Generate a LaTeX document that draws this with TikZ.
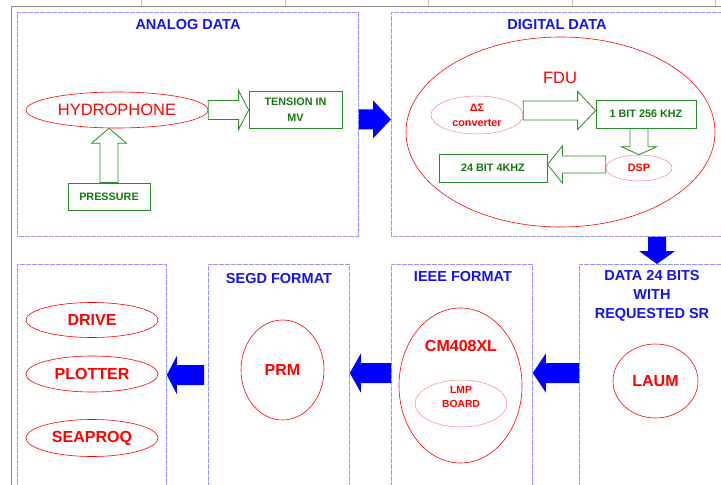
\documentclass[tikz,border=0pt]{standalone}
\usepackage{fontspec}
\setmainfont{Liberation Sans}
\usetikzlibrary{calc,shapes.geometric}

\definecolor{zoneblue}{RGB}{150,150,255}
\definecolor{titleblue}{RGB}{20,20,235}
\definecolor{flowblue}{RGB}{0,0,255}
\definecolor{partred}{RGB}{255,0,0}
\definecolor{softred}{RGB}{255,130,130}
\definecolor{boxgreen}{RGB}{40,140,40}
\definecolor{textgreen}{RGB}{20,120,20}
\definecolor{framegrey}{RGB}{140,140,140}

\newcommand\setfs[2]{\fontsize{#1}{#2}\selectfont}

% Block arrow from #2 to #3: style #1, half body width #4, half head width #5, head length #6
\newcommand\flowarrow[6]{%
  \path ($(#3)!#6!(#2)$) coordinate (fa-h);
  \draw[#1] ($(#2)!#4!90:(#3)$) -- ($(fa-h)!#4!90:(#3)$) -- ($(fa-h)!#5!90:(#3)$)
    -- (#3) -- ($(fa-h)!#5!-90:(#3)$) -- ($(fa-h)!#4!-90:(#3)$)
    -- ($(#2)!#4!-90:(#3)$) -- cycle;}

\tikzset{
  zone/.style={draw=zoneblue, dash pattern=on 0.6pt off 0.6pt, line width=0.8pt, inner sep=0pt,
    anchor=north west},
  zonetitle/.style={text=titleblue, font=\setfs{14.5}{19}\bfseries, align=center, inner sep=0pt},
  part/.style={ellipse, draw=partred, line width=0.6pt, text=partred, inner sep=0pt,
    font=\setfs{16}{18}\bfseries},
  subpart/.style={ellipse, draw=softred, line width=0.5pt, text=partred, inner sep=0pt,
    font=\setfs{10.8}{15}\bfseries, align=center},
  value/.style={rectangle, draw=boxgreen, line width=0.8pt, text=textgreen, inner sep=0pt,
    font=\setfs{10.8}{16}\bfseries, align=center},
  hollow/.style={draw=boxgreen, fill=white, line width=0.8pt, line join=miter},
  solidflow/.style={fill=flowblue, draw=none},
  frame/.style={draw=framegrey, line width=1pt},
  tick/.style={draw=framegrey!55, line width=0.5pt}
}

\begin{document}
\begin{tikzpicture}[x=1pt, y=-1pt]
  \useasboundingbox (0,0) rectangle (721,485);
  \fill[white] (0,0) rectangle (721,485);
  \clip (0,0) rectangle (721,485);

  % page frame
  \foreach \tx in {141,285,428,572,715} \draw[tick] (\tx,0) -- (\tx,6);
  \draw[frame] (721,6) -- (11,6) -- (11,486);

  % zones
  \node[zone, minimum width=341pt, minimum height=224pt] (box1) at (17,12) {};
  \node[zone, minimum width=340pt, minimum height=224pt] (box2) at (391,12) {};
  \node[zone, minimum width=149pt, minimum height=240pt] (boxa) at (17,264) {};
  \node[zone, minimum width=141pt, minimum height=240pt] (boxb) at (208,264) {};
  \node[zone, minimum width=141pt, minimum height=240pt] (box3) at (391,264) {};
  \node[zone, minimum width=150pt, minimum height=240pt] (box4) at (579,264) {};

  \node[zonetitle] (t1) at (188,25) {ANALOG DATA};
  \node[zonetitle] (t2) at (557,25) {DIGITAL DATA};
  \node[zonetitle] (tb) at (279,279) {SEGD FORMAT};
  \node[zonetitle] (t3) at (463,277) {IEEE FORMAT};
  \node[zonetitle] (t4) at (652,296) {DATA 24 BITS\\WITH\\REQUESTED SR};

  % analog stage
  \node[part, minimum width=182pt, minimum height=36pt, font=\setfs{16.5}{18}] (hyd) at (117,110) {HYDROPHONE};
  \node[value, minimum width=93pt, minimum height=37pt] (ten) at (295.5,110) {TENSION IN\\MV};
  \node[value, minimum width=82pt, minimum height=27pt] (pres) at (109,196.5) {PRESSURE};

  % digital stage
  \node[part, minimum width=309pt, minimum height=190pt] (fdu) at (560.5,132) {};
  \node[text=partred, font=\setfs{16.5}{18}, inner sep=0pt] (fdut) at (560,78) {FDU};
  \node[subpart, minimum width=92pt, minimum height=38pt] (dsc) at (477,115) {ΔΣ\\converter};
  \node[value, minimum width=100pt, minimum height=28pt] (b1) at (646,114) {1 BIT 256 KHZ};
  \node[subpart, minimum width=66pt, minimum height=26pt] (dsp) at (639,168) {DSP};
  \node[value, minimum width=108pt, minimum height=28pt] (b24) at (493,168) {24 BIT 4KHZ};

  % recording chain
  \node[part, minimum width=132pt, minimum height=35pt] (drive) at (92,320) {DRIVE};
  \node[part, minimum width=132pt, minimum height=36pt] (plot) at (92,374) {PLOTTER};
  \node[part, minimum width=132pt, minimum height=37pt] (seap) at (92,438) {SEAPROQ};
  \node[part, minimum width=83pt, minimum height=100pt] (prm) at (282.5,370) {PRM};
  \node[part, minimum width=123pt, minimum height=155pt] (cm) at (460.5,385.5) {};
  \node[text=partred, font=\setfs{16}{18}\bfseries, inner sep=0pt] (cmt) at (461,346) {CM408XL};
  \node[subpart, minimum width=92pt, minimum height=47pt] (lmp) at (461,403.5) {};
  \node[text=partred, font=\setfs{10.3}{14}\bfseries, align=center, inner sep=0pt] (lmpt) at (461,397) {LMP\\BOARD};
  \node[part, minimum width=85pt, minimum height=74pt] (laum) at (655.5,381) {LAUM};

  % hollow flow arrows
  \coordinate (h-out) at (hyd.east);
  \coordinate (t-in) at (ten.west |- h-out);
  \flowarrow{hollow}{h-out}{t-in}{9.5pt}{19.5pt}{10pt}

  \coordinate (p-out) at (pres.north);
  \coordinate (h-in) at (p-out |- hyd.south);
  \flowarrow{hollow}{p-out}{h-in}{9pt}{17.5pt}{15pt}

  \coordinate (d-out) at ($(dsc.east)+(0,-4.5)$);
  \coordinate (b1-in) at (b1.west |- d-out);
  \flowarrow{hollow}{d-out}{b1-in}{9.5pt}{19pt}{18pt}

  \coordinate (b1-out) at (dsp.north |- b1.south);
  \coordinate (dsp-in) at (dsp.north);
  \flowarrow{hollow}{b1-out}{dsp-in}{9pt}{17.5pt}{8pt}

  \coordinate (dsp-out) at ($(dsp.west)+(0,-3.5)$);
  \coordinate (b24-in) at (b24.east |- dsp-out);
  \flowarrow{hollow}{dsp-out}{b24-in}{8.5pt}{18.5pt}{15pt}

  % solid flow arrows between zones
  \coordinate (z1-out) at ($(box1.east)+(0,-5)$);
  \coordinate (z2-in) at (box2.west |- z1-out);
  \flowarrow{solidflow}{z1-out}{z2-in}{10pt}{19pt}{18pt}

  \coordinate (z2-out) at ($(box2.south west)+(266,0)$);
  \coordinate (z4-in) at (z2-out |- box4.north);
  \flowarrow{solidflow}{z2-out}{z4-in}{9pt}{18pt}{13pt}

  \coordinate (row) at (0,373);
  \coordinate (z4-out) at (box4.west |- row);
  \coordinate (z3-in) at (box3.east |- row);
  \flowarrow{solidflow}{z4-out}{z3-in}{10pt}{19.5pt}{13pt}

  \coordinate (z3-out) at (box3.west |- row);
  \coordinate (zb-in) at (boxb.east |- row);
  \flowarrow{solidflow}{z3-out}{zb-in}{10pt}{19.5pt}{11pt}

  \coordinate (zb-out) at ($(boxb.west |- row)+(-4,2)$);
  \coordinate (za-in) at (boxa.east |- zb-out);
  \flowarrow{solidflow}{zb-out}{za-in}{10pt}{19pt}{10pt}
\end{tikzpicture}
\end{document}
